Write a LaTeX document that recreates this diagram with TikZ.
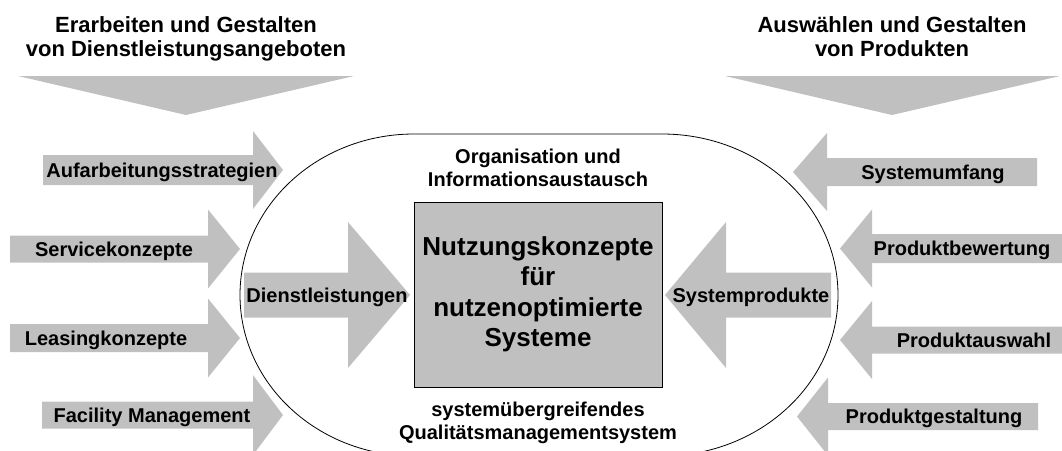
\documentclass[tikz,border=0pt]{standalone}
\usepackage{fontspec}
\setmainfont{Liberation Sans}
\definecolor{panelgray}{RGB}{192,192,192}

% Block arrow: #1 tail x, #2 head base x, #3 tip x, #4 axis y, #5 half body height, #6 half head height
\newcommand\grayarrow[6]{%
  \fill[flow] (#1,#4-#5) -- (#2,#4-#5) -- (#2,#4-#6) -- (#3,#4)
    -- (#2,#4+#6) -- (#2,#4+#5) -- (#1,#4+#5) -- cycle;}

\begin{document}
\begin{tikzpicture}[x=1pt,y=-1pt,
  flow/.style={fill=panelgray,draw=none},
  lbl/.style={font=\fontsize{20}{23}\selectfont\bfseries,inner sep=0pt,align=center},
  ttl/.style={font=\fontsize{22}{24}\selectfont\bfseries,inner sep=0pt,align=center},
  core/.style={font=\fontsize{26}{30.5}\selectfont\bfseries,inner sep=0pt,align=center},
  rim/.style={draw=black,line width=0.8pt}]

\useasboundingbox (0,0) rectangle (1062,450);
\clip (0,0) rectangle (1062,450);

% headings with their downward wedges
\node[ttl] (servtitle) at (186,39) {Erarbeiten und Gestalten\\von Dienstleistungsangeboten};
\node[ttl] (prodtitle) at (892,37) {Auswählen und Gestalten\\von Produkten};
\fill[flow] (18,76) -- (354,76) -- (186,115) -- cycle;
\fill[flow] (725,76) -- (1060,76) -- (892,115) -- cycle;

% rounded frame around the core
\draw[rim] (414,134) arc[start angle=270, end angle=90, x radius=174, y radius=161]
  -- (662,456) arc[start angle=90, end angle=-90, x radius=176, y radius=161] -- cycle;

% core box
\node[core, fill=panelgray, draw=black, line width=0.8pt,
      minimum width=248pt, minimum height=185pt] (core) at (538,294.5)
  {Nutzungskonzepte\\für\\nutzenoptimierte\\Systeme};

\node[lbl] (orga) at (538,168) {Organisation und\\Informationsaustausch};
\node[lbl] (quality) at (538,423) {systemübergreifendes\\Qualitätsmanagementsystem};

% inner arrows
\grayarrow{244}{348}{410}{295}{22.5}{73}
\node[lbl, anchor=base] (dienst) at (327,302) {Dienstleistungen};
\grayarrow{831}{726}{665}{295}{22.5}{73}
\node[lbl, anchor=base] (sysprod) at (751,302) {Systemprodukte};

% service side
\grayarrow{43}{253}{283}{170}{15}{39}
\node[lbl, anchor=base] (aufarb) at (162,177) {Aufarbeitungsstrategien};
\grayarrow{10}{208}{240}{249}{13.5}{39.5}
\node[lbl, anchor=base] (service) at (114,256) {Servicekonzepte};
\grayarrow{10}{208}{240}{338}{14}{39.5}
\node[lbl, anchor=base] (leasing) at (106,345) {Leasingkonzepte};
\grayarrow{42}{253}{283}{415}{13.5}{40}
\node[lbl, anchor=base] (facility) at (152,422) {Facility Management};

% product side
\grayarrow{1037}{827}{793}{172}{14}{39}
\node[lbl, anchor=base] (umfang) at (933,179) {Systemumfang};
\grayarrow{1062}{872}{840}{248.5}{14.5}{39}
\node[lbl, anchor=base] (bewert) at (962,255.5) {Produktbewertung};
\grayarrow{1062}{872}{840}{340}{13.5}{39}
\node[lbl, anchor=base] (auswahl) at (974,347) {Produktauswahl};
\grayarrow{1038}{828}{797}{416.5}{13.5}{39}
\node[lbl, anchor=base] (gestalt) at (934,423.5) {Produktgestaltung};

\end{tikzpicture}
\end{document}
